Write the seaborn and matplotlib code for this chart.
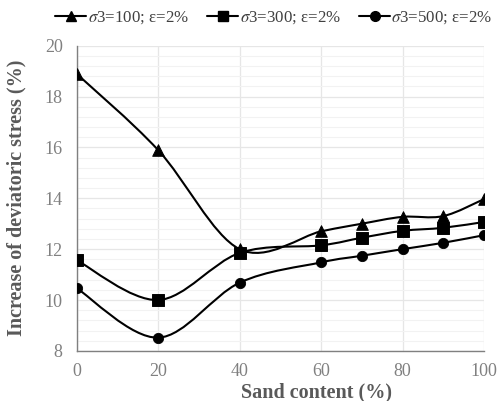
import matplotlib
matplotlib.use('Agg')
import matplotlib.pyplot as plt
import numpy as np
import pandas as pd
import seaborn as sns
from matplotlib.path import Path
from matplotlib.patches import PathPatch
from matplotlib.lines import Line2D
from matplotlib.ticker import MultipleLocator

# Data
sand = [0, 20, 40, 60, 70, 80, 90, 100]
s100 = [18.9, 15.9, 12.0, 12.7, 13.0, 13.27, 13.3, 13.97]
s300 = [11.57, 10.0, 11.85, 12.15, 12.45, 12.72, 12.84, 13.07]
s500 = [10.47, 8.52, 10.68, 11.48, 11.74, 12.0, 12.25, 12.55]
labels = ['$\\sigma$3=100; ε=2%', '$\\sigma$3=300; ε=2%', '$\\sigma$3=500; ε=2%']
markers = ['^', 's', 'o']

df = pd.DataFrame({'sand': sand, labels[0]: s100, labels[1]: s300, labels[2]: s500})
df = df.melt(id_vars='sand', var_name='series', value_name='value')

sns.set_style('white')
plt.rcParams['font.family'] = ['Liberation Serif', 'DejaVu Serif']
plt.rcParams['mathtext.fontset'] = 'stix'


def smooth_path(x, y):
  # Excel-like smoothed line: Catmull-Rom segments as cubic Bezier
  pts = np.column_stack([x, y]).astype(float)
  verts = [pts[0]]
  codes = [Path.MOVETO]
  n = len(pts)
  for i in range(n - 1):
    p0 = pts[i - 1] if i > 0 else pts[i]
    p1 = pts[i]
    p2 = pts[i + 1]
    p3 = pts[i + 2] if i + 2 < n else pts[i + 1]
    verts += [p1 + (p2 - p0) / 6, p2 - (p3 - p1) / 6, p2]
    codes += [Path.CURVE4] * 3
  return Path(verts, codes)


fig, ax = plt.subplots(figsize=(4.97, 4.01), dpi=100)
fig.subplots_adjust(left=0.154, right=0.974, bottom=0.125, top=0.886)

handles = []
for lab, m in zip(labels, markers):
  sub = df[df['series'] == lab]
  ax.add_patch(PathPatch(smooth_path(sub['sand'], sub['value']), facecolor='none',
                         edgecolor='black', linewidth=1.5, zorder=3))
  sns.scatterplot(data=sub, x='sand', y='value', marker=m, color='black',
                  s=70 if m != 'o' else 55, edgecolor='black', zorder=4, ax=ax, legend=False)
  handles.append(Line2D([0], [0], color='black', lw=1.5, marker=m, markersize=7))

ax.set_xlim(0, 100)
ax.set_ylim(8, 20)
ax.xaxis.set_major_locator(MultipleLocator(20))
ax.yaxis.set_major_locator(MultipleLocator(2))
ax.yaxis.set_minor_locator(MultipleLocator(0.4))
ax.grid(which='major', color='#e6e6e6', linewidth=0.9)
ax.grid(which='minor', axis='y', color='#f2f2f2', linewidth=0.8)
ax.set_axisbelow(True)

for s in ['top', 'right']:
  ax.spines[s].set_visible(False)
for s in ['left', 'bottom']:
  ax.spines[s].set_color('#808080')
  ax.spines[s].set_linewidth(1.0)
ax.tick_params(which='major', direction='inout', length=10, width=1.0, color='#808080',
               labelsize=13, labelcolor='#808080')
ax.tick_params(axis='y', pad=5)
ax.tick_params(axis='x', pad=4)
ax.tick_params(which='minor', length=0)

ax.set_xlabel('Sand content (%)', fontsize=14.5, fontweight='bold', color='#595959', va='top')
ax.set_ylabel('Increase of deviatoric stress (%)', fontsize=14.5, fontweight='bold',
              color='#595959')
ax.xaxis.set_label_coords(0.59, -0.103)
ax.yaxis.set_label_coords(-0.122, 0.5)

fig.legend(handles, labels, loc='center', bbox_to_anchor=(274 / 497, 1 - 18 / 401), ncol=3,
           frameon=False, fontsize=12.2, handlelength=1.8, handletextpad=0.1,
           columnspacing=1.1, labelcolor='#404040', borderaxespad=0, borderpad=0)

fig.savefig('out.png', dpi=100)
